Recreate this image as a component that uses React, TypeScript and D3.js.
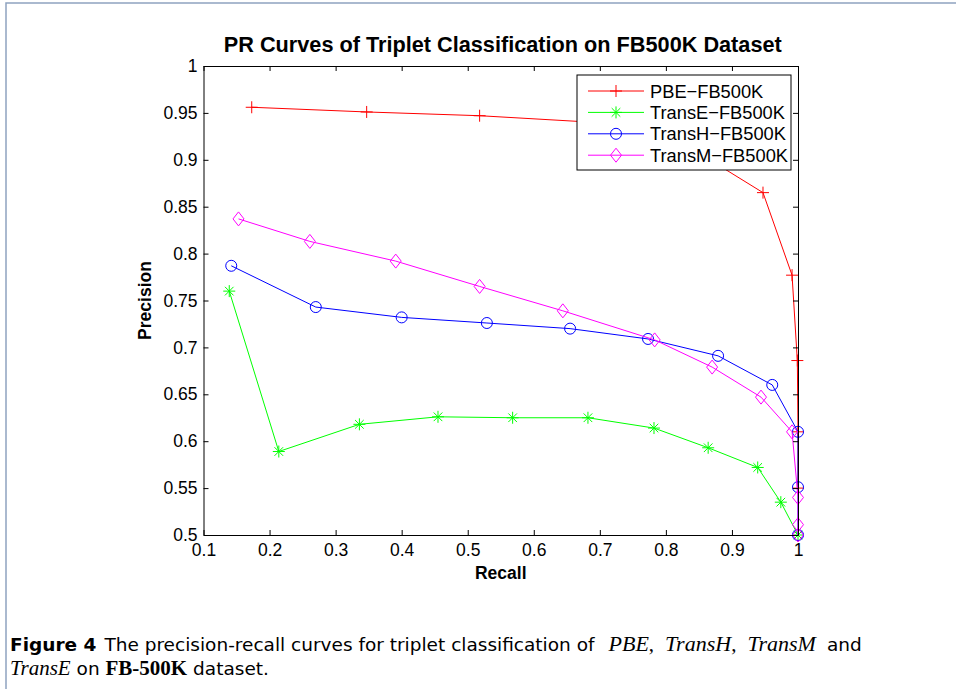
import React, { useRef, useEffect } from 'react';
import * as d3 from 'd3';

// values
const pbeRecall = [0.173, 0.347, 0.518, 0.69, 0.855, 0.947, 0.991, 0.999, 1.0, 1.0];
const pbePrecision = [0.956, 0.951, 0.947, 0.94, 0.905, 0.865, 0.777, 0.686, 0.61, 0.55];

const transERecall = [0.139, 0.214, 0.336, 0.455, 0.568, 0.682, 0.782, 0.864, 0.939, 0.974, 1.0];
const transEPrecision = [0.76, 0.589, 0.618, 0.626, 0.625, 0.625, 0.614, 0.593, 0.572, 0.535, 0.5];

const transHRecall = [0.142, 0.27, 0.4, 0.529, 0.655, 0.773, 0.879, 0.961, 1.0, 1.0, 1.0];
const transHPrecision = [0.787, 0.743, 0.732, 0.726, 0.72, 0.709, 0.691, 0.66, 0.61, 0.551, 0.5];

const transMRecall = [0.153, 0.261, 0.391, 0.518, 0.644, 0.783, 0.87, 0.944, 0.991, 1.0, 1.0, 1.0];
const transMPrecision = [0.837, 0.813, 0.792, 0.765, 0.739, 0.708, 0.679, 0.647, 0.61, 0.54, 0.511, 0.5];

const seriesNames = ['PBE−FB500K', 'TransE−FB500K', 'TransH−FB500K', 'TransM−FB500K'];
const seriesColors = ['#ff0000', '#00ff00', '#0000ff', '#ff00ff'];
const seriesMarkers = ['plus', 'star', 'circle', 'diamond'];

const xTicks = [0.1, 0.2, 0.3, 0.4, 0.5, 0.6, 0.7, 0.8, 0.9, 1];
const yTicks = [0.5, 0.55, 0.6, 0.65, 0.7, 0.75, 0.8, 0.85, 0.9, 0.95, 1];

const W = 956;
const H = 689;
const left = 203.5;
const right = 798;
const top = 66;
const bottom = 535;
const FONT = '"Liberation Sans", Arial, sans-serif';
const SERIF = '"Liberation Serif", serif';
const CAPTION = '"DejaVu Sans", sans-serif';

const markerPath = (kind: string) => {
    switch (kind) {
        case 'plus':
            return 'M-6,0H6M0,-6V6';
        case 'star':
            return 'M-6,0H6M0,-6V6M-4.3,-4.3L4.3,4.3M-4.3,4.3L4.3,-4.3';
        case 'circle':
            return d3.arc()({ innerRadius: 0, outerRadius: 5.5, startAngle: 0, endAngle: 2 * Math.PI }) || '';
        default:
            return 'M0,-7L5.5,0L0,7L-5.5,0Z';
    }
};

export default function App() {
    const xAxisRef = useRef<SVGGElement>(null);
    const yAxisRef = useRef<SVGGElement>(null);
    const topAxisRef = useRef<SVGGElement>(null);
    const rightAxisRef = useRef<SVGGElement>(null);

    const x = d3.scaleLinear().domain([0.1, 1]).range([left, right]);
    const y = d3.scaleLinear().domain([0.5, 1]).range([bottom, top]);

    const series = [
        { r: pbeRecall, p: pbePrecision },
        { r: transERecall, p: transEPrecision },
        { r: transHRecall, p: transHPrecision },
        { r: transMRecall, p: transMPrecision },
    ];

    const line = d3.line<[number, number]>()
        .x(d => x(d[0]))
        .y(d => y(d[1]));

    useEffect(() => {
        document.body.style.margin = '0';
        const fmt = (d: d3.NumberValue) => String(d);

        const styleAxis = (g: d3.Selection<SVGGElement, unknown, null, undefined>) => {
            g.selectAll('text').attr('font-family', FONT).attr('font-size', 17.5).attr('fill', '#000');
            g.selectAll('line').attr('stroke', '#000');
            g.select('.domain').attr('stroke', '#000');
        };

        d3.select(xAxisRef.current!)
            .call(d3.axisBottom(x).tickValues(xTicks).tickFormat(fmt).tickSizeInner(-5).tickSizeOuter(0).tickPadding(9))
            .call(styleAxis);
        d3.select(yAxisRef.current!)
            .call(d3.axisLeft(y).tickValues(yTicks).tickFormat(fmt).tickSizeInner(-5).tickSizeOuter(0).tickPadding(6))
            .call(styleAxis);
        d3.select(topAxisRef.current!)
            .call(d3.axisTop(x).tickValues(xTicks).tickFormat(() => '').tickSizeInner(-5).tickSizeOuter(0))
            .call(styleAxis);
        d3.select(rightAxisRef.current!)
            .call(d3.axisRight(y).tickValues(yTicks).tickFormat(() => '').tickSizeInner(-5).tickSizeOuter(0))
            .call(styleAxis);
    }, []);

    const legendX = 577;
    const legendY = 75;
    const legendRow = 21.4;

    return (
        <svg width={W} height={H} style={{ position: 'absolute', left: 0, top: 0, background: '#fff' }}>
            {/* page frame */}
            <path d={`M6,${H}V3H${W}`} fill="none" stroke="#8ea3c0" strokeWidth={1.5} />

            <text x={(left + right) / 2 + 2} y={52} textAnchor="middle" fontFamily={FONT} fontWeight="bold" fontSize={21.7}>
                PR Curves of Triplet Classification on FB500K Dataset
            </text>

            {series.map((s, i) => {
                const pts = s.r.map((r, j) => [r, s.p[j]] as [number, number]);
                return (
                    <g key={i}>
                        <path d={line(pts) || ''} fill="none" stroke={seriesColors[i]} strokeWidth={1} />
                        {pts.map((d, j) => (
                            <path key={j} d={markerPath(seriesMarkers[i])} transform={`translate(${x(d[0])},${y(d[1])})`}
                                fill="none" stroke={seriesColors[i]} strokeWidth={1} />
                        ))}
                    </g>
                );
            })}

            <g ref={xAxisRef} transform={`translate(0,${bottom})`} />
            <g ref={yAxisRef} transform={`translate(${left},0)`} />
            <g ref={topAxisRef} transform={`translate(0,${top})`} />
            <g ref={rightAxisRef} transform={`translate(${right},0)`} />

            <text x={(left + right) / 2} y={579} textAnchor="middle" fontFamily={FONT} fontWeight="bold" fontSize={17.5}>
                Recall
            </text>
            <text transform={`translate(151,${(top + bottom) / 2}) rotate(-90)`} textAnchor="middle" fontFamily={FONT} fontWeight="bold" fontSize={17.5}>
                Precision
            </text>

            {/* legend */}
            <g>
                <rect x={legendX} y={legendY} width={214} height={95} fill="#fff" stroke="#000" strokeWidth={1} />
                {seriesNames.map((name, i) => {
                    const cy = legendY + 16 + i * legendRow;
                    return (
                        <g key={name}>
                            <line x1={588} x2={644} y1={cy} y2={cy} stroke={seriesColors[i]} strokeWidth={1} />
                            <path d={markerPath(seriesMarkers[i])} transform={`translate(616,${cy})`} fill="none" stroke={seriesColors[i]} strokeWidth={1} />
                            <text x={650} y={cy + 6.5} fontFamily={FONT} fontSize={18.3}>{name}</text>
                        </g>
                    );
                })}
            </g>

            {/* caption */}
            <text x={10} y={651} fontFamily={CAPTION} fontSize={18.5}>
                <tspan fontWeight="bold">Figure 4</tspan>
                <tspan dx={8}>{'The precision-recall curves for triplet classification of'}</tspan>
                <tspan dx={14} fontFamily={SERIF} fontStyle="italic" fontSize={22}>PBE</tspan>
                <tspan fontFamily={SERIF} fontSize={21}>,</tspan>
                <tspan dx={11} fontFamily={SERIF} fontStyle="italic" fontSize={22}>TransH</tspan>
                <tspan fontFamily={SERIF} fontSize={21}>,</tspan>
                <tspan dx={11} fontFamily={SERIF} fontStyle="italic" fontSize={22}>TransM</tspan>
                <tspan dx={11}>and</tspan>
            </text>
            <text x={10} y={675} fontFamily={CAPTION} fontSize={18.5}>
                <tspan fontFamily={SERIF} fontStyle="italic" fontSize={21}>TransE</tspan>
                <tspan>{' on '}</tspan>
                <tspan fontFamily={SERIF} fontWeight="bold" fontSize={21}>FB-500K</tspan>
                <tspan>{' dataset.'}</tspan>
            </text>
        </svg>
    );
}
